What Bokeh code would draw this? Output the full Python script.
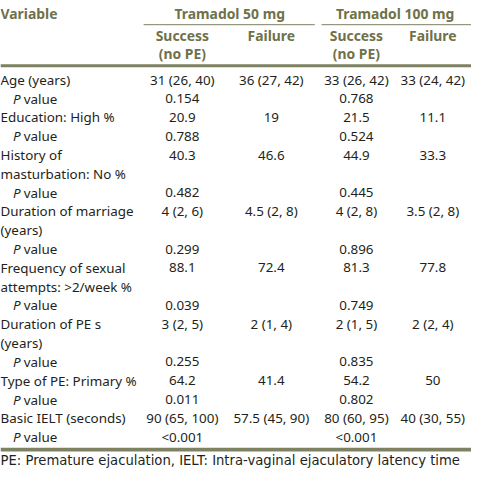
from bokeh.plotting import figure
from bokeh.models import Range1d, ColumnDataSource
from bokeh.core.properties import value
from bokeh.embed import file_html
from bokeh.resources import INLINE

# ---------------- data ----------------
row_labels = ["Age (years)", "P value", "Education: High %", "P value",
              "History of", "masturbation: No %", "P value",
              "Duration of marriage", "(years)", "P value",
              "Frequency of sexual", "attempts: >2/week %", "P value",
              "Duration of PE s", "(years)", "P value",
              "Type of PE: Primary %", "P value",
              "Basic IELT (seconds)", "P value"]
value_rows = [0, 2, 4, 7, 10, 13, 16, 18]
p_rows = [1, 3, 6, 9, 12, 15, 17, 19]

success50 = ["31 (26, 40)", "20.9", "40.3", "4 (2, 6)", "88.1", "3 (2, 5)", "64.2", "90 (65, 100)"]
failure50 = ["36 (27, 42)", "19", "46.6", "4.5 (2, 8)", "72.4", "2 (1, 4)", "41.4", "57.5 (45, 90)"]
success100 = ["33 (26, 42)", "21.5", "44.9", "4 (2, 8)", "81.3", "2 (1, 5)", "54.2", "80 (60, 95)"]
failure100 = ["33 (24, 42)", "11.1", "33.3", "3.5 (2, 8)", "77.8", "2 (2, 4)", "50", "40 (30, 55)"]
p50 = ["0.154", "0.788", "0.482", "0.299", "0.039", "0.255", "0.011", "<0.001"]
p100 = ["0.768", "0.524", "0.445", "0.896", "0.749", "0.835", "0.802", "<0.001"]

groups = ["Tramadol 50 mg", "Tramadol 100 mg"]
subheads = ["Success", "Failure", "Success", "Failure"]
footnote = "PE: Premature ejaculation, IELT: Intra-vaginal ejaculatory latency time"

# ---------------- layout ----------------
W, H = 471, 469
RW, RH = 487, 485
s = W / RW

HEAD = "#6f7149"
RULE = "#7e8262"
TXT = "#231f20"
FONT = "Noto Sans"
BODY = f"{13.9 * s:.1f}px"
HFS = f"{14.4 * s:.1f}px"

p = figure(width=W, height=H, x_range=Range1d(0, RW), y_range=Range1d(RH, 0),
           output_backend="svg", toolbar_location=None, min_border=0)
p.axis.visible = False
p.grid.visible = False
p.outline_line_color = None
p.background_fill_color = "white"
p.border_fill_color = "white"

col_x = [188, 280, 368, 447]
row_y0, row_dy = 82, 19.45

def ry(i):
    return row_y0 + row_dy * i

# rules
p.segment(x0=[0, 0], x1=[RW, RW], y0=[67.5, 464.5], y1=[67.5, 464.5],
          line_color=RULE, line_width=[3 * s, 4 * s])
p.segment(x0=[148, 332], x1=[325, RW], y0=[25, 25], y1=[25, 25],
          line_color=RULE, line_width=1)

# headers
p.text(x=[0], y=[13], text=["Variable"], text_font=value(FONT), text_font_style="bold",
       text_font_size=HFS, text_color=HEAD, text_align="left", text_baseline="middle")
p.text(x=[237, 408], y=[13, 13], text=groups, text_font=value(FONT), text_font_style="bold",
       text_font_size=HFS, text_color=HEAD, text_align="center", text_baseline="middle")
p.text(x=col_x, y=[36] * 4, text=subheads, text_font=value(FONT), text_font_style="bold",
       text_font_size=HFS, text_color=HEAD, text_align="center", text_baseline="middle")
p.text(x=[col_x[0], col_x[2]], y=[55, 55], text=["(no PE)", "(no PE)"], text_font=value(FONT),
       text_font_style="bold", text_font_size=HFS, text_color=HEAD, text_align="center",
       text_baseline="middle")

# row labels
lab_x, lab_y, lab_t = [], [], []
px, py = [], []
vx, vy = [], []
for i, lab in enumerate(row_labels):
    if lab == "P value":
        px.append(13); py.append(ry(i))
        vx.append(24); vy.append(ry(i))
    else:
        lab_x.append(0); lab_y.append(ry(i)); lab_t.append(lab)
p.text(x=lab_x, y=lab_y, text=lab_t, text_font=value(FONT), text_font_size=BODY,
       text_color=TXT, text_align="left", text_baseline="middle")
p.text(x=px, y=py, text=["P"] * len(px), text_font=value(FONT), text_font_style="italic",
       text_font_size=BODY, text_color=TXT, text_align="left", text_baseline="middle")
p.text(x=vx, y=vy, text=["value"] * len(vx), text_font=value(FONT), text_font_size=BODY,
       text_color=TXT, text_align="left", text_baseline="middle")

# values
for cx, col in zip(col_x, [success50, failure50, success100, failure100]):
    src = ColumnDataSource(dict(x=[cx] * len(col), y=[ry(i) for i in value_rows], t=col))
    p.text(x="x", y="y", text="t", source=src, text_font=value(FONT), text_font_size=BODY,
           text_color=TXT, text_align="center", text_baseline="middle")
for cx, col in zip([col_x[0], col_x[2]], [p50, p100]):
    src = ColumnDataSource(dict(x=[cx] * len(col), y=[ry(i) for i in p_rows], t=col))
    p.text(x="x", y="y", text="t", source=src, text_font=value(FONT), text_font_size=BODY,
           text_color=TXT, text_align="center", text_baseline="middle")

# footnote
p.text(x=[0], y=[476], text=[footnote], text_font=value("DejaVu Sans"),
       text_font_size=f"{13.6 * s:.1f}px",
       text_color=TXT, text_align="left", text_baseline="middle")

open("out.html", "w").write(file_html(p, INLINE))
